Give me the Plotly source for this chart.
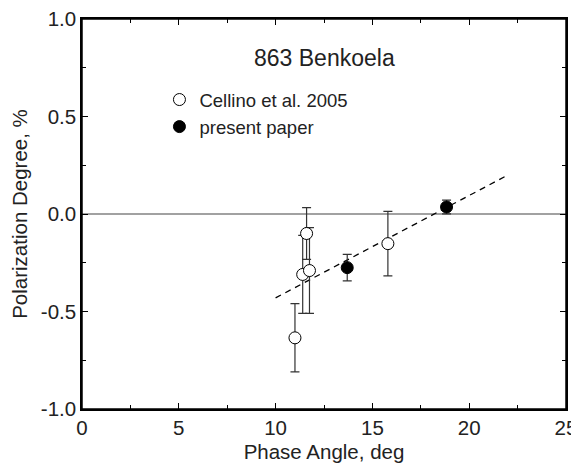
import plotly.graph_objects as go

# Cellino et al. 2005 (open circles)
cel_phase = [11.0, 11.4, 11.6, 11.75, 15.8]
cel_pol = [-0.635, -0.31, -0.10, -0.29, -0.152]
cel_err = [0.175, 0.20, 0.133, 0.22, 0.165]

# present paper (filled circles)
pp_phase = [13.7, 18.83]
pp_pol = [-0.275, 0.036]
pp_err = [0.068, 0.035]

# linear fit (dashed)
fit_phase = [10.0, 22.0]
fit_pol = [-0.43, 0.20]

# zero line
zero_phase = [0, 25]
zero_pol = [0, 0]

title_text = "863 Benkoela"
x_title = "Phase Angle, deg"
y_title = "Polarization Degree, %"
x_range = [0, 25]
y_range = [-1.0, 1.0]
x_ticks = [0, 5, 10, 15, 20, 25]
y_ticks = [-1.0, -0.5, 0.0, 0.5, 1.0]
y_ticklabels = ["-1.0", "-0.5", "0.0", "0.5", "1.0"]

FONT = "Liberation Sans, Arial, sans-serif"
TXT = "#222"

fig = go.Figure()
fig.add_trace(go.Scatter(x=zero_phase, y=zero_pol, mode="lines",
                         line=dict(color="#444", width=1.1), showlegend=False, hoverinfo="skip"))
fig.add_trace(go.Scatter(x=fit_phase, y=fit_pol, mode="lines",
                         line=dict(color="black", width=1.3, dash="6px,5px"), showlegend=False))
fig.add_trace(go.Scatter(x=cel_phase, y=cel_pol, mode="markers", name="Cellino et al. 2005",
                         marker=dict(symbol="circle", size=12, color="white",
                                     line=dict(color="black", width=1)),
                         error_y=dict(type="data", array=cel_err, color="#333", thickness=1.2, width=4.5)))
fig.add_trace(go.Scatter(x=pp_phase, y=pp_pol, mode="markers", name="present paper",
                         marker=dict(symbol="circle", size=12, color="black",
                                     line=dict(color="black", width=1)),
                         error_y=dict(type="data", array=pp_err, color="#333", thickness=1.2, width=4.5)))

fig.add_annotation(x=12.5, y=0.80, text=title_text, showarrow=False,
                   font=dict(family=FONT, size=23, color=TXT))

# frame around the plot area (top/right sides)
fig.add_shape(type="rect", xref="paper", yref="paper", x0=0, y0=0, x1=1, y1=1,
              line=dict(color="black", width=1.5), layer="above")

axis_common = dict(showline=True, linecolor="black", linewidth=1.5, mirror="allticks",
                   ticks="inside", ticklen=6, tickwidth=1.2, tickcolor="black",
                   showgrid=False, zeroline=False, automargin=False,
                   ticklabeloverflow="allow",
                   tickfont=dict(family=FONT, size=20.5, color=TXT))
xminor = dict(ticks="inside", ticklen=4, tickwidth=1, tickcolor="black", dtick=2.5, tick0=0, showgrid=False)
yminor = dict(ticks="inside", ticklen=4, tickwidth=1, tickcolor="black", dtick=0.25, tick0=0, showgrid=False)

# page body has an 8px margin: figure is made 8px smaller so the plot area lands where the reference has it
fig.update_layout(
    width=571, height=465,
    margin=dict(l=74, r=13, t=11, b=64),
    plot_bgcolor="white", paper_bgcolor="white",
    showlegend=True,
    legend=dict(x=0.16, y=0.841, xanchor="left", yanchor="top", bgcolor="rgba(0,0,0,0)",
                font=dict(family=FONT, size=18.5, color=TXT), itemwidth=30, tracegroupgap=0),
    xaxis=dict(range=x_range, tickvals=x_ticks, minor=xminor,
               title=dict(text=x_title, font=dict(family=FONT, size=20.5, color=TXT), standoff=6),
               **axis_common),
    yaxis=dict(range=y_range, tickvals=y_ticks, ticktext=y_ticklabels, minor=yminor,
               title=dict(text=y_title, font=dict(family=FONT, size=20.5, color=TXT), standoff=8),
               **axis_common),
)

fig.write_html("out.html")
